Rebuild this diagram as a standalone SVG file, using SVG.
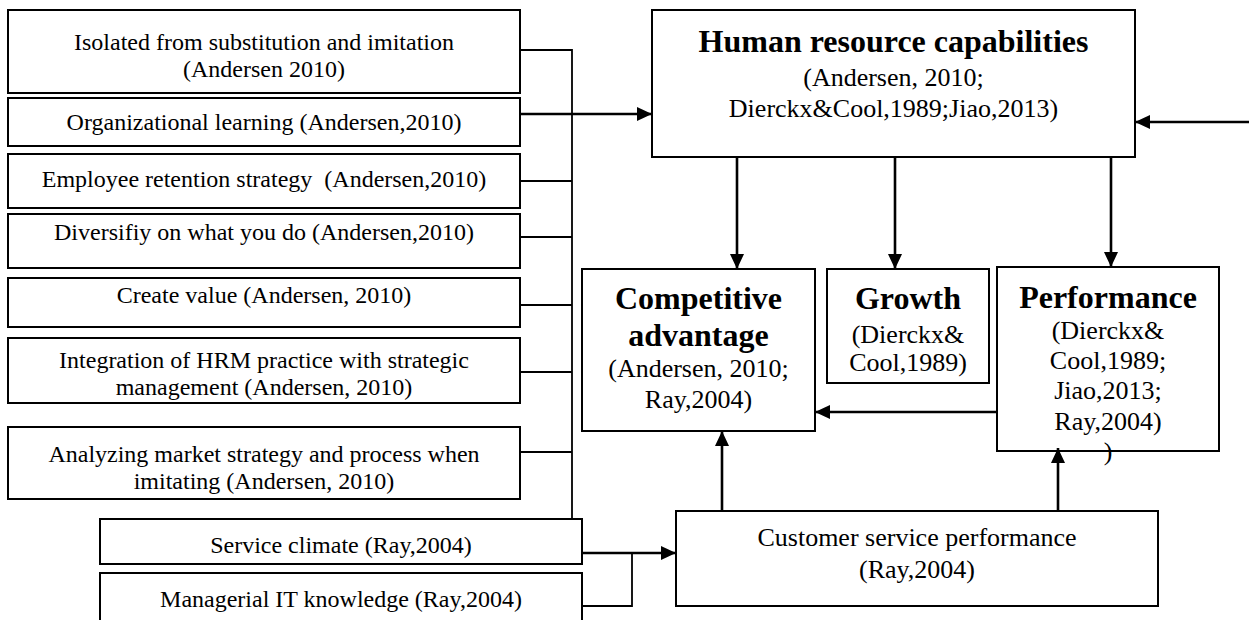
<svg xmlns="http://www.w3.org/2000/svg" width="1249" height="620" viewBox="0 0 1249 620">
  <style>
    .box { fill: #fff; stroke: #000; stroke-width: 2; }
    .t { font-family: "Liberation Serif", "Times New Roman", serif; fill: #000; text-anchor: middle; }
    .s24 { font-size: 24px; }
    .s26 { font-size: 26px; }
    .b32 { font-size: 32px; font-weight: bold; }
    .wire { fill: none; stroke: #000; stroke-width: 1.8; }
    .arrow { fill: none; stroke: #000; stroke-width: 2.6; }
  </style>
  <defs>
    <marker id="head" markerUnits="userSpaceOnUse" markerWidth="16" markerHeight="14" refX="15" refY="7" orient="auto">
      <path d="M0,0 L15,7 L0,14 z" fill="#000"/>
    </marker>
  </defs>
  <rect width="1249" height="620" fill="#fff"/>

  <!-- source factors on the left -->
  <g id="isolated">
    <rect class="box" x="8" y="10" width="512" height="83"/>
    <text class="t s24" x="264" y="50">Isolated from substitution and imitation</text>
    <text class="t s24" x="264" y="77">(Andersen 2010)</text>
  </g>
  <g id="org-learning">
    <rect class="box" x="8" y="98" width="512" height="48"/>
    <text class="t s24" x="264" y="130">Organizational learning (Andersen,2010)</text>
  </g>
  <g id="retention">
    <rect class="box" x="8" y="154" width="512" height="54"/>
    <text class="t s24" x="264" y="187">Employee retention strategy &#160;(Andersen,2010)</text>
  </g>
  <g id="diversify">
    <rect class="box" x="8" y="214" width="512" height="54"/>
    <text class="t s24" x="264" y="240">Diversifiy on what you do (Andersen,2010)</text>
  </g>
  <g id="create-value">
    <rect class="box" x="8" y="278" width="512" height="49"/>
    <text class="t s24" x="264" y="303">Create value (Andersen, 2010)</text>
  </g>
  <g id="hrm-integration">
    <rect class="box" x="8" y="338" width="512" height="65"/>
    <text class="t s24" x="264" y="368">Integration of HRM practice with strategic</text>
    <text class="t s24" x="264" y="395">management (Andersen, 2010)</text>
  </g>
  <g id="market-strategy">
    <rect class="box" x="8" y="427" width="512" height="72"/>
    <text class="t s24" x="264" y="462">Analyzing market strategy and process when</text>
    <text class="t s24" x="264" y="489">imitating (Andersen, 2010)</text>
  </g>
  <g id="service-climate">
    <rect class="box" x="100" y="519" width="482" height="45"/>
    <text class="t s24" x="341" y="553">Service climate (Ray,2004)</text>
  </g>
  <g id="managerial-it">
    <rect class="box" x="100" y="573" width="482" height="60"/>
    <text class="t s24" x="341" y="607">Managerial IT knowledge (Ray,2004)</text>
  </g>

  <!-- central and outcome nodes -->
  <g id="hr-capabilities">
    <rect class="box" x="652" y="10" width="483" height="147"/>
    <text class="t b32" x="893.5" y="52">Human resource capabilities</text>
    <text class="t s26" x="893.5" y="86">(Andersen, 2010;</text>
    <text class="t s26" x="893.5" y="117">Dierckx&amp;Cool,1989;Jiao,2013)</text>
  </g>
  <g id="competitive-advantage">
    <rect class="box" x="582" y="269" width="233" height="162"/>
    <text class="t b32" x="698.5" y="309">Competitive</text>
    <text class="t b32" x="698.5" y="346">advantage</text>
    <text class="t s26" x="698.5" y="377">(Andersen, 2010;</text>
    <text class="t s26" x="698.5" y="408">Ray,2004)</text>
  </g>
  <g id="growth">
    <rect class="box" x="827" y="269" width="162" height="114"/>
    <text class="t b32" x="908" y="309">Growth</text>
    <text class="t s26" x="908" y="343">(Dierckx&amp;</text>
    <text class="t s26" x="908" y="371">Cool,1989)</text>
  </g>
  <g id="performance">
    <rect class="box" x="997" y="267" width="222" height="184"/>
    <text class="t b32" x="1108" y="308">Performance</text>
    <text class="t s26" x="1108" y="339">(Dierckx&amp;</text>
    <text class="t s26" x="1108" y="369">Cool,1989;</text>
    <text class="t s26" x="1108" y="399">Jiao,2013;</text>
    <text class="t s26" x="1108" y="430">Ray,2004)</text>
    <text class="t s26" x="1108" y="460">)</text>
  </g>
  <g id="customer-service">
    <rect class="box" x="676" y="511" width="482" height="95"/>
    <text class="t s26" x="917" y="546">Customer service performance</text>
    <text class="t s26" x="917" y="578">(Ray,2004)</text>
  </g>

  <!-- connectors -->
  <g id="connectors">
    <path class="wire" d="M520,50 H572 V519 M520,181 H572 M520,237 H572 M520,305 H572 M520,372 H572 M520,452 H572"/>
    <path class="arrow" d="M520,114 H652" marker-end="url(#head)"/>
    <path class="arrow" d="M1249,122 H1135" marker-end="url(#head)"/>
    <path class="arrow" d="M737,157 V269" marker-end="url(#head)"/>
    <path class="arrow" d="M895,157 V269" marker-end="url(#head)"/>
    <path class="arrow" d="M1111,157 V267" marker-end="url(#head)"/>
    <path class="arrow" d="M997,412 H815" marker-end="url(#head)"/>
    <path class="arrow" d="M722,511 V431" marker-end="url(#head)"/>
    <path class="arrow" d="M1058,511 V448" marker-end="url(#head)"/>
    <path class="wire" d="M582,606 H632 V553"/>
    <path class="arrow" d="M582,553 H676" marker-end="url(#head)"/>
  </g>
</svg>
